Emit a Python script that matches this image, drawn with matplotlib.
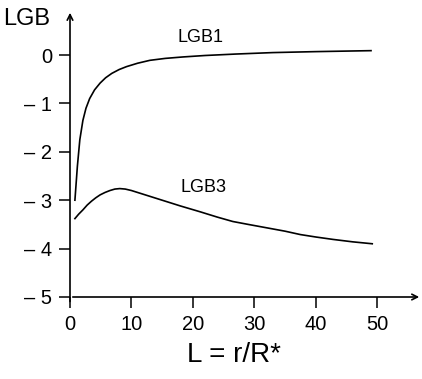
import numpy as np
import matplotlib
matplotlib.use('Agg')
import matplotlib.pyplot as plt

plt.rcParams['font.family'] = ['Liberation Sans', 'DejaVu Sans']

# values
L_lgb1 = [0.8, 1.2, 1.6, 2.1, 2.6, 3.2, 4.0, 4.9, 5.8, 6.8, 8.0, 9.2, 11.0,
          13.0, 15.5, 18.4, 22.0, 27.0, 33.0, 40.0, 49.0]
lgb1 = [-3.0, -2.3, -1.75, -1.35, -1.1, -0.9, -0.72, -0.58, -0.47, -0.38, -0.30, -0.24, -0.17,
        -0.11, -0.07, -0.04, -0.01, 0.02, 0.05, 0.07, 0.09]

L_lgb3 = [0.8, 1.4, 2.1, 2.8, 3.5, 4.2, 4.9, 5.7, 6.5, 7.3, 8.1, 9.0, 10.0, 12.0, 14.0,
          16.0, 18.0, 21.2, 24.0, 26.5, 29.0, 32.0, 35.0, 37.5, 40.0, 42.8, 46.0, 49.2]
lgb3 = [-3.38, -3.29, -3.2, -3.1, -3.02, -2.95, -2.89, -2.84, -2.8, -2.77, -2.76, -2.77, -2.8,
        -2.88, -2.96, -3.04, -3.12, -3.24, -3.35, -3.44, -3.5, -3.57, -3.64, -3.71, -3.76,
        -3.81, -3.86, -3.9]

x_ticks = [0, 10, 20, 30, 40, 50]
y_ticks = [0, -1, -2, -3, -4, -5]
y_ticklabels = ['0', '– 1', '– 2', '– 3', '– 4', '– 5']

W, H = 422, 379
fig = plt.figure(figsize=(W / 100, H / 100), dpi=100)
ax = fig.add_axes([70 / W, 82 / H, 352 / W, 287 / H])
ax.set_xlim(0, 57.3)
ax.set_ylim(-5, 0.93)

for s in ax.spines.values():
    s.set_visible(False)

ax.plot(L_lgb1, lgb1, color='black', lw=1.2)
ax.plot(L_lgb3, lgb3, color='black', lw=1.2)

# axes with arrows
ax.annotate('', xy=(57.3, -5), xytext=(0, -5),
            arrowprops=dict(arrowstyle='->', lw=1.2, color='black'), annotation_clip=False)
ax.annotate('', xy=(0, 0.93), xytext=(0, -5.15),
            arrowprops=dict(arrowstyle='->', lw=1.2, color='black'), annotation_clip=False)

ax.set_xticks(x_ticks)
ax.set_xticklabels([str(t) for t in x_ticks])
ax.set_yticks(y_ticks)
ax.set_yticklabels(y_ticklabels)
ax.tick_params(direction='out', length=8, width=1.1, labelsize=14.5, pad=5)

ax.text(21.2, 0.37, 'LGB1', ha='center', va='center', fontsize=13)
ax.text(21.7, -2.74, 'LGB3', ha='center', va='center', fontsize=13)

fig.text(3 / W, 1 - 19 / H, 'LGB', ha='left', va='center', fontsize=17)
fig.text(234 / W, 1 - 355 / H, 'L = r/R*', ha='center', va='center', fontsize=20)

fig.savefig('out.png', dpi=100)
